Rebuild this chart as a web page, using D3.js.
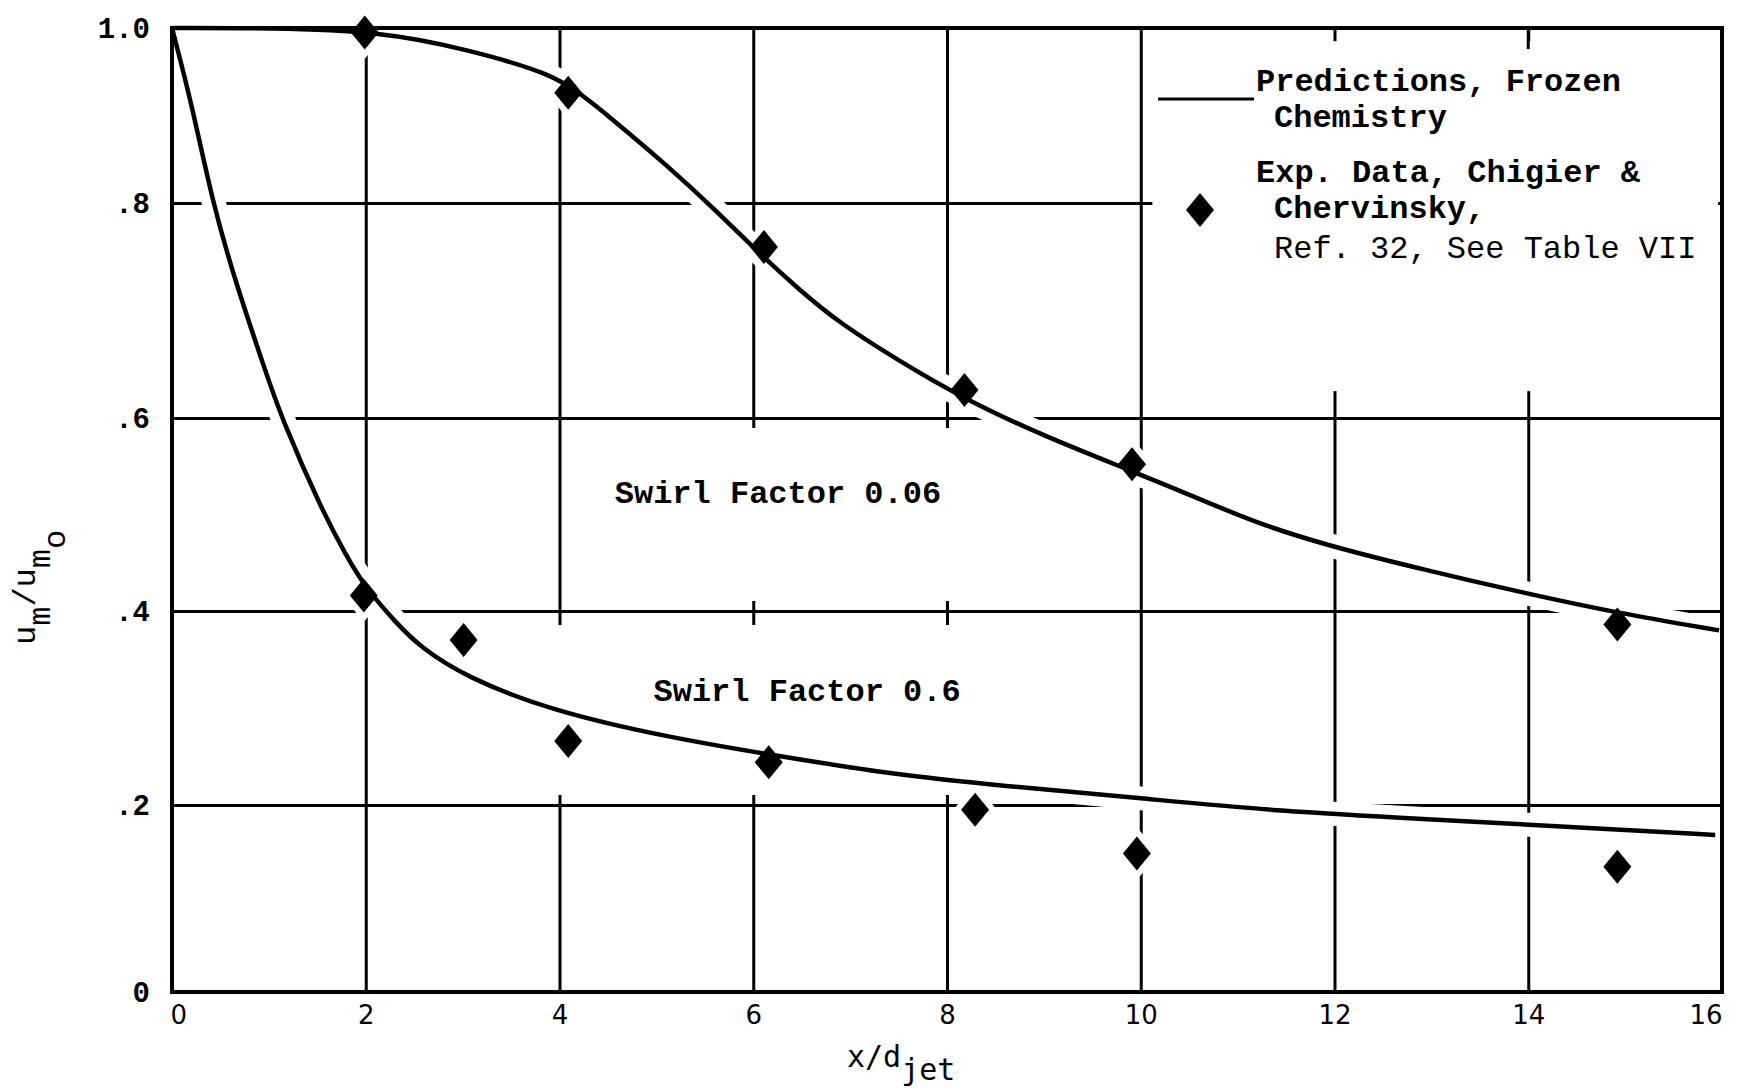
<!DOCTYPE html>
<html><head><meta charset="utf-8">
<script src="https://cdn.jsdelivr.net/npm/d3@7"></script>
<style>
html,body{margin:0;padding:0;background:#fff;}
svg{display:block;}
</style></head><body>
<svg id="chart" width="1737" height="1092"></svg>
<script>
// ---------- data ----------
const xTicks = [0, 2, 4, 6, 8, 10, 12, 14, 16];
const xTickLabels = ["0", "2", "4", "6", "8", "10", "12", "14", "16"];
const yTicks = [0, 0.2, 0.4, 0.6, 0.8, 1.0];
const yTickLabels = ["0", ".2", ".4", ".6", ".8", "1.0"];

// Predictions, frozen chemistry — swirl factor 0.06
const predX006 = [0, 1, 2.15, 3.03, 3.92, 4.25, 4.51, 5.11, 5.61, 6.05, 6.48, 6.88, 7.47, 8.19, 9.03, 9.91, 10.49, 11.22, 11.96, 12.91, 13.99, 14.92, 15.97];
const predY006 = [1.0, 1.0, 0.996, 0.976, 0.948, 0.922, 0.899, 0.843, 0.7935, 0.754, 0.719, 0.689, 0.655, 0.617, 0.580, 0.545, 0.521, 0.490, 0.467, 0.443, 0.418, 0.398, 0.380];
// Predictions, frozen chemistry — swirl factor 0.6
const predX06 = [0, 0.2, 0.42, 0.66, 0.96, 1.13, 1.55, 1.79, 1.99, 2.32, 2.56, 3.03, 3.92, 5.11, 6.16, 7.47, 8.55, 10.0, 11.46, 12.91, 14.37, 15.93];
const predY06 = [1.0, 0.915, 0.8, 0.725, 0.645, 0.6, 0.504, 0.459, 0.425, 0.387, 0.363, 0.332, 0.297, 0.270, 0.252, 0.231, 0.220, 0.207, 0.193, 0.185, 0.177, 0.168];

// Exp. data, Chigier & Chervinsky
const expX006 = [1.99, 4.09, 6.11, 8.18, 9.91, 14.92];
const expY006 = [0.995, 0.926, 0.759, 0.626, 0.552, 0.386];
const expX06 = [1.98, 3.01, 4.09, 6.16, 8.29, 9.96, 14.92];
const expY06 = [0.416, 0.370, 0.266, 0.244, 0.195, 0.148, 0.134];

const legendLineText = ["Predictions, Frozen", "Chemistry"];
const legendMarkerText = ["Exp. Data, Chigier &", "Chervinsky,", "Ref. 32, See Table VII"];
const annotationText = ["Swirl Factor 0.06", "Swirl Factor 0.6"];
const annotationX = [4.57, 4.97];
const annotationY = [0.512, 0.307];

// ---------- layout ----------
const svg = d3.select("#chart");
const x = d3.scaleLinear().domain([0, 16]).range([172, 1722]);
const y = d3.scaleLinear().domain(yTicks).range([992, 805, 611, 418, 203, 28]);

const TYPE = "'Liberation Mono', 'DejaVu Sans Mono', monospace";
const plotH = y(0) - y(1);
const plotW = x(16) - x(0);

// grid (vertical)
const gx = svg.append("g").attr("transform", `translate(0,${y(0)})`)
  .call(d3.axisBottom(x).tickValues(xTicks).tickSize(-plotH).tickPadding(14)
    .tickFormat((d, i) => xTickLabels[i]));
gx.select(".domain").remove();
gx.selectAll("line").attr("stroke", "#000").attr("stroke-width", 3);
gx.selectAll("text").attr("fill", "#000").attr("font-family", "'DejaVu Sans', sans-serif")
  .attr("font-size", 26)
  .attr("text-anchor", (d, i) => i === 0 ? "start" : (i === xTicks.length - 1 ? "end" : "middle"))
  .attr("dx", (d, i) => i === 0 ? -2 : 0);

// grid (horizontal)
const gy = svg.append("g").attr("transform", `translate(${x(0)},0)`)
  .call(d3.axisLeft(y).tickValues(yTicks).tickSize(-plotW).tickPadding(22)
    .tickFormat((d, i) => yTickLabels[i]));
gy.select(".domain").remove();
gy.selectAll("line").attr("stroke", "#000").attr("stroke-width", 3);
gy.selectAll("text").attr("fill", "#000").attr("font-family", TYPE)
  .attr("font-size", 29).attr("font-weight", "bold");

// legend box background (clears grid)
svg.append("rect")
  .attr("x", x(10.12)).attr("y", y(0.985))
  .attr("width", x(15.96) - x(10.12)).attr("height", y(0.625) - y(0.985))
  .attr("fill", "#fff");
svg.append("line").attr("x1", x(14)).attr("x2", x(14)).attr("y1", y(1)).attr("y2", y(0.976))
  .attr("stroke", "#000").attr("stroke-width", 3);

// label backgrounds (clear grid behind the swirl-factor annotations)
svg.append("rect")
  .attr("x", x(4.25)).attr("y", y(0.6) + 10)
  .attr("width", x(9.6) - x(4.25)).attr("height", y(0.4) - y(0.6) - 20)
  .attr("fill", "#fff");
svg.append("rect")
  .attr("x", x(3.9)).attr("y", y(0.4) + 14)
  .attr("width", x(9.6) - x(3.9)).attr("height", y(0.2) - y(0.4) - 24)
  .attr("fill", "#fff");

const line = d3.line().x(d => x(d[0])).y(d => y(d[1])).curve(d3.curveBasis);
const curve006 = predX006.map((v, i) => [v, predY006[i]]);
const curve06 = predX06.map((v, i) => [v, predY06[i]]);
const pts = expX006.map((v, i) => [v, expY006[i]]).concat(expX06.map((v, i) => [v, expY06[i]]));

const diamond = "M0,-17L14,0L0,17L-14,0Z";

// white halos (breaks in grid lines around curves & symbols)
[curve006, curve06].forEach(c => {
  svg.append("path").datum(c).attr("d", line).attr("fill", "none")
    .attr("stroke", "#fff").attr("stroke-width", 24).attr("stroke-linecap", "round");
});
svg.append("g").selectAll("path").data(pts).join("path")
  .attr("d", diamond).attr("transform", d => `translate(${x(d[0])},${y(d[1])})`)
  .attr("fill", "#fff").attr("stroke", "#fff").attr("stroke-width", 12);

// frame
svg.append("rect").attr("x", x(0)).attr("y", y(1)).attr("width", plotW).attr("height", plotH)
  .attr("fill", "none").attr("stroke", "#000").attr("stroke-width", 4);

// curves
[curve006, curve06].forEach(c => {
  svg.append("path").datum(c).attr("d", line).attr("fill", "none")
    .attr("stroke", "#000").attr("stroke-width", 4.5).attr("stroke-linejoin", "round");
});

// experimental points
svg.append("g").selectAll("path").data(pts).join("path")
  .attr("d", diamond).attr("transform", d => `translate(${x(d[0])},${y(d[1])})`)
  .attr("fill", "#000");

// legend
svg.append("line").attr("x1", 1158).attr("x2", 1254).attr("y1", 99).attr("y2", 99)
  .attr("stroke", "#000").attr("stroke-width", 3);
svg.append("path").attr("d", diamond).attr("transform", "translate(1200,210)").attr("fill", "#000");
const legT = svg.append("g").attr("font-family", TYPE).attr("font-size", 32)
  .attr("font-weight", "bold").attr("fill", "#000");
legT.append("text").attr("x", 1256).attr("y", 91).text(legendLineText[0]);
legT.append("text").attr("x", 1274).attr("y", 127).text(legendLineText[1]);
legT.append("text").attr("x", 1256).attr("y", 182).text(legendMarkerText[0]);
legT.append("text").attr("x", 1274).attr("y", 218).text(legendMarkerText[1]);
legT.append("text").attr("x", 1274).attr("y", 258).attr("font-weight", "normal").text(legendMarkerText[2]);

// annotations
annotationText.forEach((t, i) => {
  svg.append("text").attr("x", x(annotationX[i])).attr("y", y(annotationY[i]))
    .attr("font-family", TYPE).attr("font-size", 32).attr("font-weight", "bold")
    .attr("fill", "#000").text(t);
});

// x-axis title
const xt = svg.append("text").attr("x", 847).attr("y", 1067)
  .attr("font-family", "'DejaVu Sans Mono', monospace").attr("font-size", 30).attr("fill", "#000");
xt.append("tspan").text("x/d");
xt.append("tspan").attr("dy", 13).text("jet");

// y-axis title
const yt = svg.append("text").attr("transform", "translate(35,645) rotate(-90)")
  .attr("font-family", TYPE).attr("font-size", 32).attr("fill", "#000");
yt.append("tspan").text("u");
yt.append("tspan").attr("dy", 15).text("m");
yt.append("tspan").attr("dy", -15).text("/u");
yt.append("tspan").attr("dy", 15).text("m");
yt.append("tspan").attr("dy", 15).text("o");
</script>
</body></html>
